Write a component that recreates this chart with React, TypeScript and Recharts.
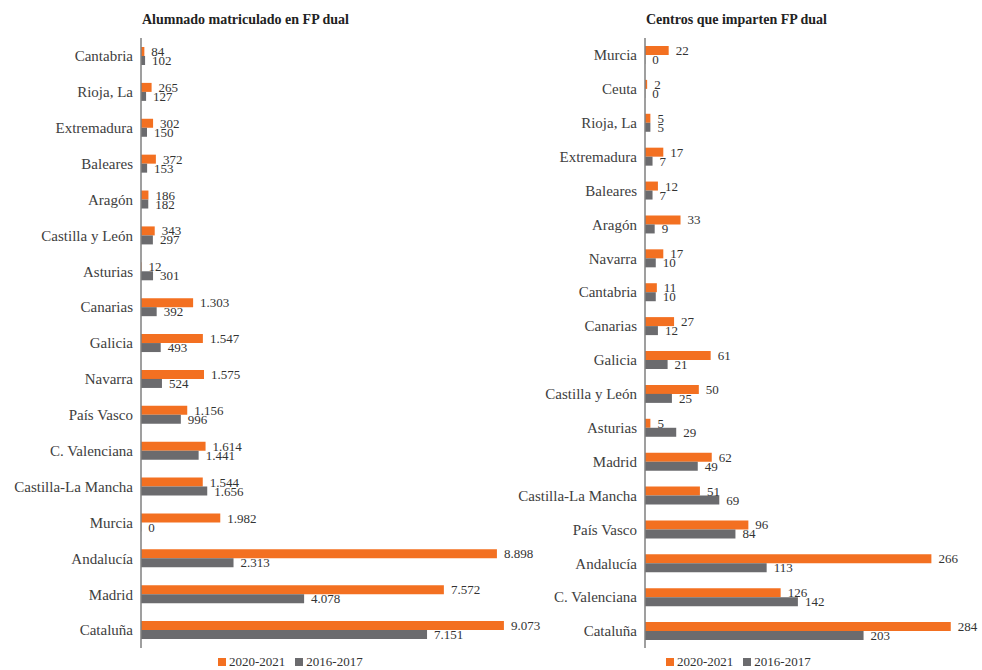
import { BarChart, Bar, XAxis, YAxis, LabelList } from "recharts";

const ORANGE = "#F37021";
const GRAY = "#6B6B6E";
const FONT = "'Liberation Serif', 'DejaVu Serif', serif";

// Alumnado matriculado
const alumnosRegions = [
  "Cantabria", "Rioja, La", "Extremadura", "Baleares", "Aragón", "Castilla y León",
  "Asturias", "Canarias", "Galicia", "Navarra", "País Vasco", "C. Valenciana",
  "Castilla-La Mancha", "Murcia", "Andalucía", "Madrid", "Cataluña",
];
const alumnos2021 = [84, 265, 302, 372, 186, 343, 12, 1303, 1547, 1575, 1156, 1614, 1544, 1982, 8898, 7572, 9073];
const alumnos2017 = [102, 127, 150, 153, 182, 297, 301, 392, 493, 524, 996, 1441, 1656, 0, 2313, 4078, 7151];

// Centros
const centrosRegions = [
  "Murcia", "Ceuta", "Rioja, La", "Extremadura", "Baleares", "Aragón", "Navarra",
  "Cantabria", "Canarias", "Galicia", "Castilla y León", "Asturias", "Madrid",
  "Castilla-La Mancha", "País Vasco", "Andalucía", "C. Valenciana", "Cataluña",
];
const centros2021 = [22, 2, 5, 17, 12, 33, 17, 11, 27, 61, 50, 5, 62, 51, 96, 266, 126, 284];
const centros2017 = [0, 0, 5, 7, 7, 9, 10, 10, 12, 21, 25, 29, 49, 69, 84, 113, 142, 203];

const fmt = (v: any) => Number(v).toLocaleString("de-DE");

// zero-value bars get a hairline so their label is still drawn
const zeroMin = (v: any) => (Number(v) === 0 ? 0.3 : 0);

const valueLabel = (props: any) => {
  const { x, y, width, height, value } = props;
  return (
    <text
      x={Number(x) + Number(width || 0) + 7}
      y={Number(y) + Number(height) / 2}
      dy="0.35em"
      fill="#333"
      fontSize={13}
      fontFamily={FONT}
    >
      {fmt(value)}
    </text>
  );
};

function Panel({
  title, regions, a, b, width, axisWidth, plotWidth, max, left,
}: {
  title: string; regions: string[]; a: number[]; b: number[];
  width: number; axisWidth: number; plotWidth: number; max: number; left: number;
}) {
  const data = regions.map((r, i) => ({ region: r, y2021: a[i], y2017: b[i] }));
  return (
    <div style={{ position: "absolute", left, top: 0, width, height: 670 }}>
      <div
        style={{
          position: "absolute", left: axisWidth + 1, top: 12, fontFamily: FONT,
          fontWeight: "bold", fontSize: 14, color: "#222", whiteSpace: "nowrap",
        }}
      >
        {title}
      </div>
      <BarChart
        width={width}
        height={670}
        data={data}
        layout="vertical"
        margin={{ top: 38, right: width - axisWidth - plotWidth, bottom: 22, left: 0 }}
        barGap={0}
        barSize={9}
        style={{ fontFamily: FONT }}
      >
        <XAxis type="number" domain={[0, max]} hide />
        <YAxis
          type="category"
          dataKey="region"
          width={axisWidth}
          tickLine={false}
          tickSize={0}
          tickMargin={8}
          axisLine={{ stroke: "#7F7F7F", strokeWidth: 1.5 }}
          tick={{ fill: "#404040", fontSize: 15, fontFamily: FONT }}
          interval={0}
        />
        <Bar dataKey="y2021" fill={ORANGE} minPointSize={zeroMin} isAnimationActive={false}>
          <LabelList dataKey="y2021" content={valueLabel} />
        </Bar>
        <Bar dataKey="y2017" fill={GRAY} minPointSize={zeroMin} isAnimationActive={false}>
          <LabelList dataKey="y2017" content={valueLabel} />
        </Bar>
      </BarChart>
    </div>
  );
}

function LegendBox({ left }: { left: number }) {
  const item = (color: string, text: string) => (
    <span style={{ display: "inline-flex", alignItems: "center", marginRight: 10 }}>
      <span style={{ width: 8, height: 8, background: color, display: "inline-block", marginRight: 3 }} />
      {text}
    </span>
  );
  return (
    <div
      style={{
        position: "absolute", left, top: 654, fontFamily: FONT, fontSize: 13,
        color: "#333", whiteSpace: "nowrap",
      }}
    >
      {item(ORANGE, "2020-2021")}
      {item(GRAY, "2016-2017")}
    </div>
  );
}

export default function App() {
  return (
    <div style={{ position: "absolute", left: 0, top: 0, width: 982, height: 670, background: "#fff" }}>
      <Panel title="Alumnado matriculado en FP dual" regions={alumnosRegions} a={alumnos2021}
        b={alumnos2017} width={560} axisWidth={141} plotWidth={400} max={10000} left={0} />
      <Panel title="Centros que imparten FP dual" regions={centrosRegions} a={centros2021}
        b={centros2017} width={482} axisWidth={145} plotWidth={323} max={300} left={500} />
      <LegendBox left={218} />
      <LegendBox left={666} />
    </div>
  );
}
